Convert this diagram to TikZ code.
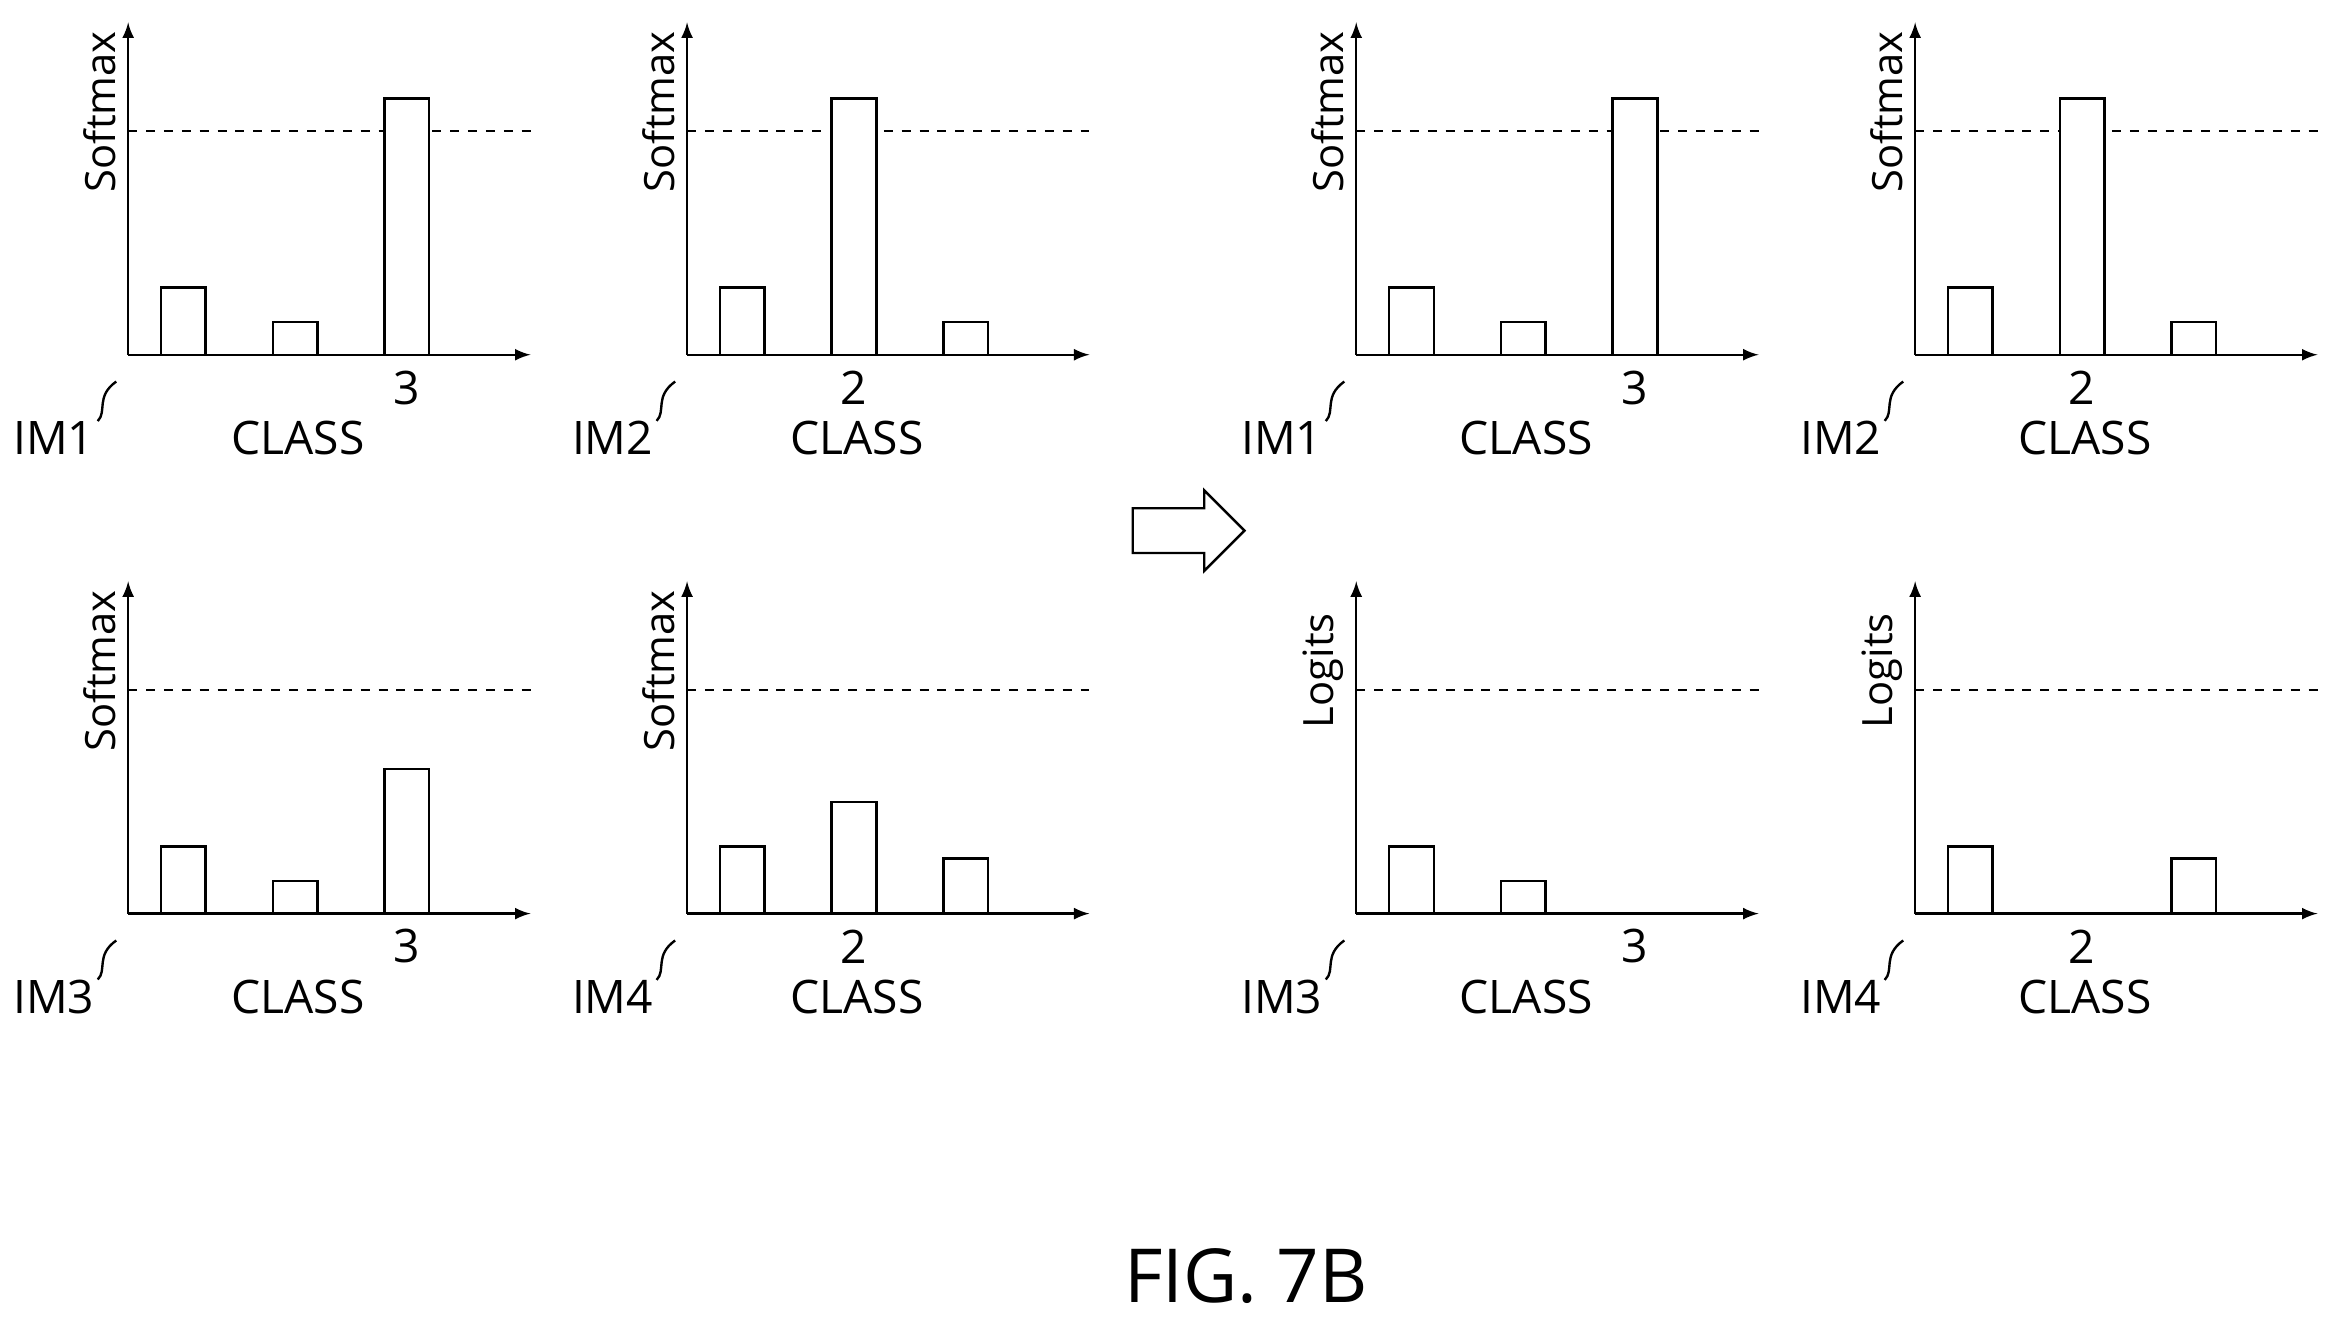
\documentclass[tikz,border=0pt]{standalone}
\usepackage{fontspec}
\setmainfont{Open Sans}
\tikzset{
  axis/.style={thick,-latex},
  bar/.style={draw,thick,fill=white},
  limit/.style={thick,dashed},
  lbl/.style={font=\fontsize{15.5}{18}\selectfont,inner sep=0pt},
  ylbl/.style={font=\fontsize{14}{16}\selectfont,rotate=90,inner sep=0pt},
}
% one chart: origin x, origin y, axis name, three bar tops (0 = none), class number, class offset, image
\newcommand{\chartpanel}[9]{
  \coordinate (o#9) at (#1,#2);
  \coordinate (yt#9) at (#1,#2-223);
  \coordinate (xe#9) at (#1+270,#2);
  \draw[axis] (o#9) -- (yt#9);
  \draw[axis] (o#9) -- (xe#9);
  \draw[limit] (#1,#2-150) -- (#1+270,#2-150);
  \foreach \bx/\bh in {22/#4,97/#5,172/#6}{
    \ifnum\bh>0 \draw[bar] (#1+\bx,#2) rectangle (#1+\bx+30,#2-\bh); \fi
  }
  \node[ylbl,anchor=south] (y#9) at (#1-8,#2-163) {#3};
  \node[lbl] (n#9) at (#1+#8,#2+22) {#7};
  \node[lbl] (c#9) at (#1+114,#2+56) {CLASS};
  \node[lbl] (im#9) at (#1-50,#2+56) {IM#9};
  \draw[thick] ([xshift=1pt]im#9.north east) .. controls (#1-14,#2+38) and (#1-22,#2+28) .. (#1-8,#2+18);
}
\begin{document}
\begin{tikzpicture}[x=0.5pt,y=-0.5pt]
\useasboundingbox (0,0) rectangle (1560,890);
\begin{scope}
  \chartpanel{86}{238}{Softmax}{45}{22}{172}{3}{187}{1}
\end{scope}
\begin{scope}
  \chartpanel{461}{238}{Softmax}{45}{172}{22}{2}{112}{2}
\end{scope}
\begin{scope}
  \chartpanel{86}{613}{Softmax}{45}{22}{97}{3}{187}{3}
\end{scope}
\begin{scope}
  \chartpanel{461}{613}{Softmax}{45}{75}{37}{2}{112}{4}
\end{scope}
\begin{scope}
  \chartpanel{910}{238}{Softmax}{45}{22}{172}{3}{187}{1}
\end{scope}
\begin{scope}
  \chartpanel{1285}{238}{Softmax}{45}{172}{22}{2}{112}{2}
\end{scope}
\begin{scope}
  \chartpanel{910}{613}{Logits}{45}{22}{0}{3}{187}{3}
\end{scope}
\begin{scope}
  \chartpanel{1285}{613}{Logits}{45}{0}{37}{2}{112}{4}
\end{scope}
% block arrow
\draw[thick,line join=miter] (760,341) -- (808,341) -- (808,329) -- (835,356)
  -- (808,383) -- (808,371) -- (760,371) -- cycle;
\node[font=\fontsize{25}{30}\selectfont,inner sep=0pt] (fig) at (836,856) {FIG. 7B};
\end{tikzpicture}
\end{document}
